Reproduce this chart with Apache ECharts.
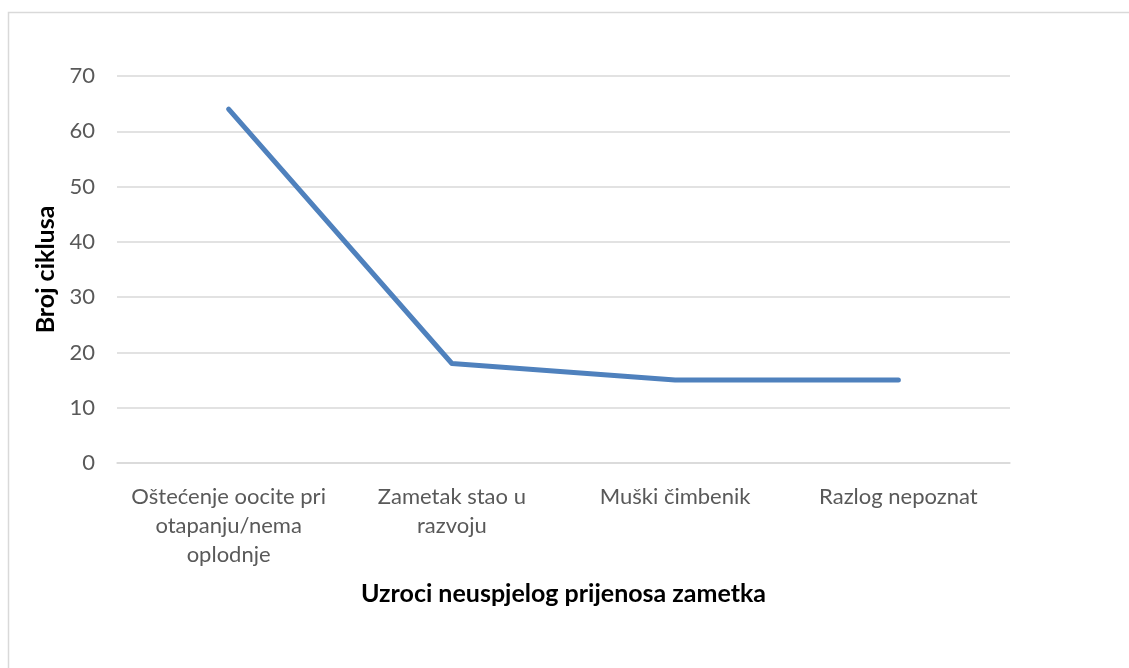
<!DOCTYPE html>
<html>
<head>
<meta charset="utf-8">
<script src="https://cdn.jsdelivr.net/npm/echarts@6/dist/echarts.min.js"></script>
<style>
  html, body { margin: 0; padding: 0; background: #fff; }
  #chart { width: 1129px; height: 668px; }
</style>
</head>
<body>
<div id="chart"></div>
<script>
// data
const categories = [
    'Oštećenje oocite pri\notapanju/nema\noplodnje',
    'Zametak stao u\nrazvoju',
    'Muški čimbenik',
    'Razlog nepoznat'
];
const cycles = [64, 18, 15, 15];
const yTicks = { min: 0, max: 70, interval: 10 };

const font = 'Lato, "Open Sans", "Noto Sans", sans-serif';
const chart = echarts.init(document.getElementById('chart'), null, { renderer: 'canvas' });

chart.setOption({
    backgroundColor: '#fff',
    animation: false,
    graphic: [{
        type: 'rect',
        shape: { x: 8.5, y: 12.5, width: 1140, height: 680 },
        style: { fill: 'none', stroke: '#d9d9d9', lineWidth: 1.5 },
        silent: true
    }],
    grid: { left: 117, right: 119, top: 76, bottom: 205 },
    xAxis: {
        type: 'category',
        data: categories,
        boundaryGap: true,
        axisLine: { lineStyle: { color: '#d9d9d9', width: 1.5 } },
        axisTick: { show: false },
        axisLabel: {
            color: '#595959', fontFamily: font, fontSize: 22, lineHeight: 29,
            margin: 19, interval: 0
        },
        name: 'Uzroci neuspjelog prijenosa zametka',
        nameLocation: 'middle',
        nameGap: 118,
        nameTextStyle: { color: '#000', fontFamily: font, fontSize: 25, fontWeight: 'bold' }
    },
    yAxis: {
        type: 'value',
        min: yTicks.min, max: yTicks.max, interval: yTicks.interval,
        axisLine: { show: false },
        axisTick: { show: false },
        splitLine: { lineStyle: { color: '#d9d9d9', width: 1.5 } },
        axisLabel: { color: '#595959', fontFamily: font, fontSize: 22, margin: 22 },
        name: 'Broj ciklusa',
        nameLocation: 'middle',
        nameGap: 58,
        nameRotate: 90,
        nameTextStyle: { color: '#000', fontFamily: font, fontSize: 25, fontWeight: 'bold' }
    },
    series: [{
        type: 'line',
        data: cycles,
        showSymbol: false,
        lineStyle: { color: '#4f81bd', width: 5, cap: 'round', join: 'round' }
    }]
});
</script>
</body>
</html>
